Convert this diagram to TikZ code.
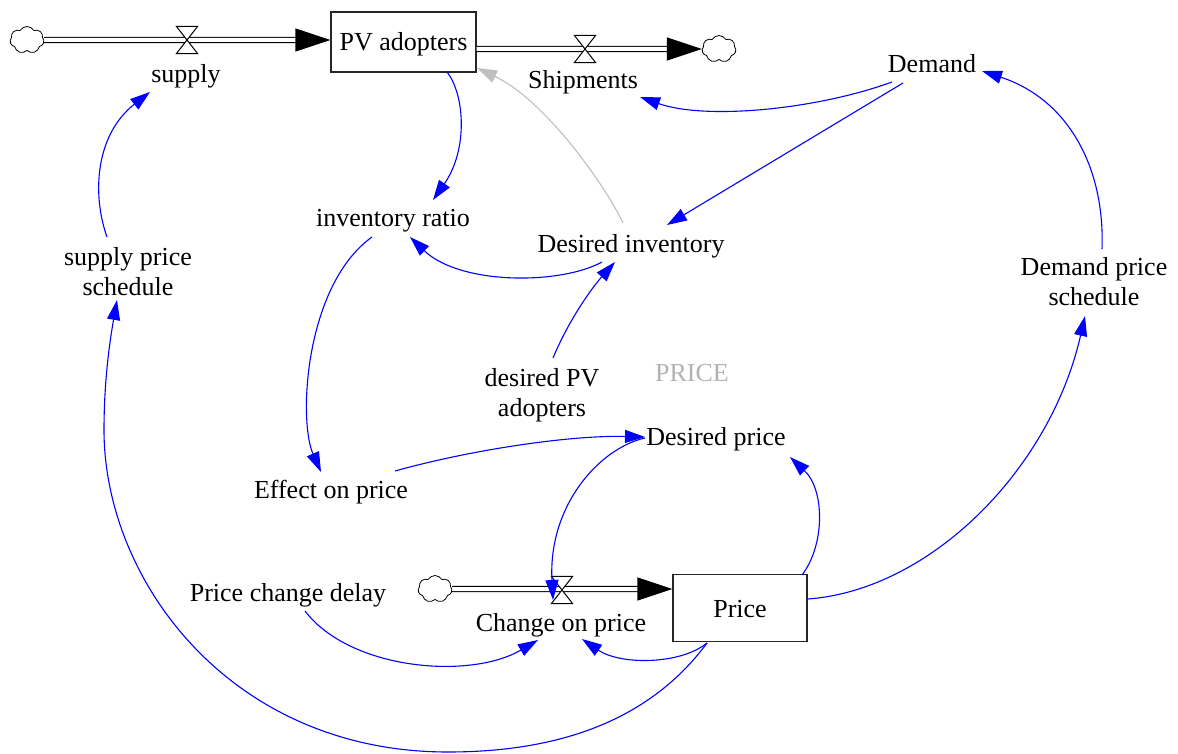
\documentclass[tikz,border=0pt]{standalone}
\usepackage{fontspec}
\setmainfont{Liberation Serif}
\usetikzlibrary{arrows.meta,shapes.symbols}
\begin{document}
\begin{tikzpicture}[x=1pt,y=-1pt,
  every node/.style={font=\fontsize{26}{30}\selectfont, inner sep=2pt},
  lbl/.style={text height=20pt, text depth=2pt},
  lbl2/.style={align=center},
  stock/.style={draw=black!85, line width=1.1pt, minimum width=145pt, minimum height=60pt, text height=20pt, text depth=2pt},
  src/.style={cloud, cloud puffs=7, cloud puff arc=120, cloud ignores aspect, draw, line width=0.8pt, minimum width=34pt, minimum height=27pt, inner sep=0pt},
  valvebox/.style={minimum width=21pt, minimum height=27pt, inner sep=0pt},
  valveline/.style={draw=black, line width=1pt, fill=white},
  flow/.style={draw=black, line width=1.2pt, double=white, double distance=4pt, -{Triangle[length=35pt,width=23pt]}},
  link/.style={draw=blue, line width=1.1pt, -{Triangle[length=20pt,width=13pt]}},
  glink/.style={draw=black!25, line width=1.1pt, -{Triangle[length=20pt,width=13pt]}}
]
\useasboundingbox (0,0) rectangle (1178,754);

% stocks
\node[stock] (pv) at (403.5,42) {PV adopters};
\node[stock, minimum width=134pt, minimum height=67pt] (price) at (740,608) {Price};

% clouds
\node[src] (cl1) at (27,40) {};
\node[src] (cl2) at (719,49) {};
\node[src] (cl3) at (435,589) {};

% valves (positions)
\node[valvebox] (vs1) at (187,40) {};
\node[valvebox] (vs2) at (585,49) {};
\node[valvebox] (vc) at (562,590) {};

% labels
\node[lbl] (supply) at (186,74) {supply};
\node[lbl] (ship) at (583,80) {Shipments};
\node[lbl] (demand) at (932,64) {Demand};
\node[lbl] (invratio) at (393,218) {inventory ratio};
\node[lbl] (desinv) at (631,243) {Desired inventory};
\node[lbl2] (sps) at (128,272) {supply price\\schedule};
\node[lbl2] (dps) at (1094,282) {Demand price\\schedule};
\node[lbl, text=black!30] (pricesec) at (692,372) {PRICE};
\node[lbl2] (dpv) at (542,395) {desired PV\\adopters};
\node[lbl] (desprice) at (716,436) {Desired price};
\node[lbl] (effect) at (331,489) {Effect on price};
\node[lbl] (pcd) at (288,592) {Price change delay};
\node[lbl] (cop) at (561,622) {Change on price};

% flows
\draw[flow] (cl1.east) -- (pv.west |- cl1);
\draw[flow] (pv.east |- vs2) -- (cl2.west);
\draw[flow] (cl3.east) -- (price.west |- cl3);

% valve symbols
\foreach \v in {vs1,vs2,vc}
  \draw[valveline] (\v.north west) -- (\v.north east) -- (\v.south west) -- (\v.south east) -- cycle;

% connectors
\draw[link] ([shift={(-21,-35)}]sps.center) .. controls (92,195) and (95,135) .. ([shift={(-36,18)}]supply.center);
\draw[link] ([shift={(-33,35)}]price.center) .. controls (650,720) and (560,752) .. (448,752)
   .. controls (230,752) and (104,580) .. (104,430)
   .. controls (104,380) and (110,340) .. ([shift={(-11,28)}]sps.center);
\draw[link] ([shift={(43.5,30)}]pv.center) .. controls (465,95) and (468,150) .. ([shift={(40,-18)}]invratio.center);
\draw[glink] ([shift={(-8,-20)}]desinv.center) .. controls (605,185) and (545,100) .. ([shift={(73.5,26)}]pv.center);
\draw[link] ([shift={(-40,18)}]demand.center) .. controls (815,110) and (705,120) .. ([shift={(57,17)}]ship.center);
\draw[link] ([shift={(-29,19)}]demand.center) -- ([shift={(36,-18)}]desinv.center);
\draw[link] ([shift={(-29,19)}]desinv.center) .. controls (560,285) and (460,285) .. ([shift={(17,19)}]invratio.center);
\draw[link] ([shift={(11,-37)}]dpv.center) .. controls (568,322) and (590,290) .. ([shift={(-16,19)}]desinv.center);
\draw[link] ([shift={(-21,19)}]invratio.center) .. controls (305,285) and (298,420) .. ([shift={(-10,-17)}]effect.center);
\draw[link] ([shift={(64,-18)}]effect.center) .. controls (470,450) and (570,435) .. ([shift={(-71,1)}]desprice.center);
\draw[link] ([shift={(-71,2)}]desprice.center) .. controls (600,448) and (548,505) .. ([shift={(-9,10)}]vc.center);
\draw[link] ([shift={(62,-33)}]price.center) .. controls (825,545) and (825,490) .. ([shift={(74,21)}]desprice.center);
\draw[link] ([shift={(68,-9)}]price.center) .. controls (930,590) and (1050,470) .. ([shift={(-9,34)}]dps.center);
\draw[link] ([shift={(8,-33)}]dps.center) .. controls (1105,170) and (1070,100) .. ([shift={(50,7)}]demand.center);
\draw[link] ([shift={(17,19)}]pcd.center) .. controls (350,670) and (470,680) .. ([shift={(-23,18)}]cop.center);
\draw[link] ([shift={(-33,35)}]price.center) .. controls (680,665) and (620,665) .. ([shift={(21,17)}]cop.center);
\end{tikzpicture}
\end{document}
